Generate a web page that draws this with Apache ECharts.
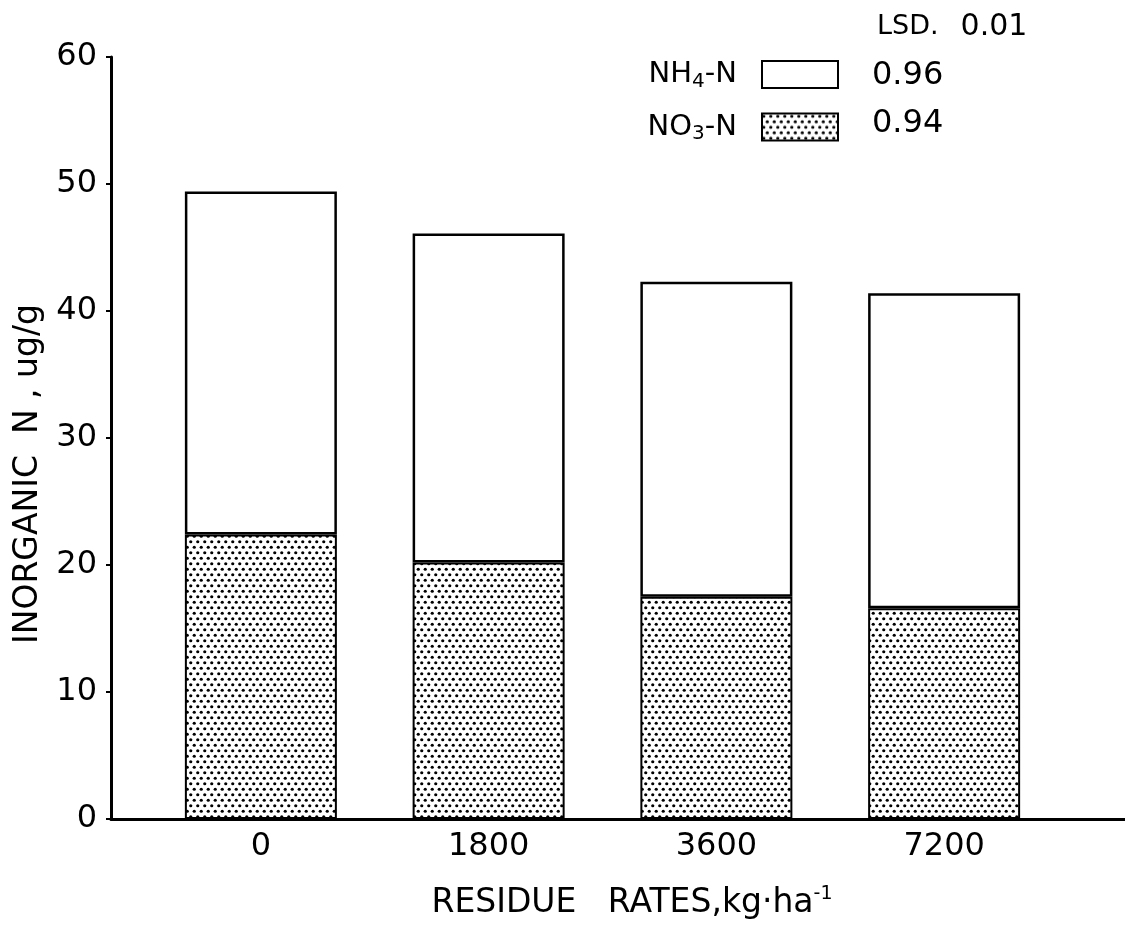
<!DOCTYPE html>
<html><head><meta charset="utf-8">
<script src="https://cdn.jsdelivr.net/npm/echarts@6/dist/echarts.min.js"></script>
<style>html,body{margin:0;padding:0;background:#fff;}#c{width:1125px;height:933px;}</style>
</head><body><div id="c"></div>
<script>
var categories = ['0', '1800', '3600', '7200'];
var no3 = [22.4, 20.2, 17.5, 16.6];
var nh4 = [27.0, 25.9, 24.8, 24.8];
var yTicks = [0, 10, 20, 30, 40, 50, 60];
var lsdLabel = 'LSD.';
var lsdLevel = '0.01';
var lsdValues = ['0.96', '0.94'];

var FONT = 'DejaVu Sans';
function dots() {
  var c = document.createElement('canvas');
  c.width = 7; c.height = 11;
  var g = c.getContext('2d');
  g.fillStyle = '#fff'; g.fillRect(0, 0, 7, 11);
  g.fillStyle = '#000';
  g.beginPath(); g.arc(1.75, 2.75, 1.6, 0, Math.PI * 2); g.fill();
  g.beginPath(); g.arc(5.25, 8.25, 1.6, 0, Math.PI * 2); g.fill();
  return c;
}
var pat = {image: dots(), repeat: 'repeat'};

var chart = echarts.init(document.getElementById('c'));
chart.setOption({
  animation: false,
  backgroundColor: '#fff',
  grid: [
    {left: 147, right: 67, top: 57, bottom: 114},
    {left: 111, right: 0, top: 57, bottom: 114}
  ],
  legend: {
    orient: 'vertical', right: 286, top: 60, align: 'right', padding: 0,
    icon: 'rect', itemWidth: 76, itemHeight: 27, itemGap: 21,
    data: ['NH4-N', 'NO3-N'],
    formatter: function (n) {
      return n === 'NH4-N' ? '{a|NH}{s|4}{a|-N}' : '{a|NO}{s|3}{a|-N}';
    },
    textStyle: {
      color: '#000', fontFamily: FONT, fontSize: 29, padding: [0, 20, 0, 0],
      rich: {
        a: {fontFamily: FONT, fontSize: 29, color: '#000'},
        s: {fontFamily: FONT, fontSize: 20, color: '#000', padding: [14, 0, 0, 0]}
      }
    }
  },
  xAxis: [
    {type: 'category', gridIndex: 0, data: categories,
     axisLine: {show: false}, axisTick: {show: false},
     axisLabel: {color: '#000', fontFamily: FONT, fontSize: 32, margin: 12}},
    {type: 'value', gridIndex: 1, min: 0, max: 1,
     axisLine: {show: true, onZero: false, lineStyle: {color: '#000', width: 3}},
     axisTick: {show: false}, axisLabel: {show: false}, splitLine: {show: false}}
  ],
  yAxis: [
    {type: 'value', gridIndex: 0, min: yTicks[0], max: yTicks[yTicks.length - 1], interval: 10,
     offset: 36,
     axisLine: {show: true, lineStyle: {color: '#000', width: 3}},
     axisTick: {show: true, length: 5, lineStyle: {color: '#000', width: 2}},
     axisLabel: {color: '#000', fontFamily: FONT, fontSize: 32, margin: 14},
     splitLine: {show: false}},
    {type: 'value', gridIndex: 1, min: 0, max: 1, show: false}
  ],
  series: [
    {name: 'NO3-N', type: 'bar', stack: 'n', data: no3, barWidth: 152,
     itemStyle: {color: pat, borderColor: '#000', borderWidth: 2}},
    {name: 'NH4-N', type: 'bar', stack: 'n', data: nh4, barWidth: 152,
     itemStyle: {color: '#fff', borderColor: '#000', borderWidth: 2.5}}
  ],
  graphic: [
    {type: 'text', x: 877, y: 27, style: {
      text: '{a|' + lsdLabel + '}{b|' + lsdLevel + '}', verticalAlign: 'middle',
      rich: {a: {fontFamily: FONT, fontSize: 27, fill: '#000'},
             b: {fontFamily: FONT, fontSize: 30, fill: '#000', padding: [0, 0, 0, 22]}}}},
    {type: 'text', x: 872, y: 76, style: {text: lsdValues[0], verticalAlign: 'middle', fontFamily: FONT, fontSize: 32, fill: '#000'}},
    {type: 'text', x: 872, y: 124, style: {text: lsdValues[1], verticalAlign: 'middle', fontFamily: FONT, fontSize: 32, fill: '#000'}},
    {type: 'text', x: 632, y: 903, style: {
      text: '{a|RESIDUE   RATES,kg·ha}{s|-1}', align: 'center', verticalAlign: 'middle',
      rich: {a: {fontFamily: FONT, fontSize: 33, fill: '#000'},
             s: {fontFamily: FONT, fontSize: 19, fill: '#000', padding: [0, 0, 18, 0]}}}},
    {type: 'text', x: 28, y: 474, rotation: Math.PI / 2, style: {
      text: 'INORGANIC  N , ug/g', align: 'center', verticalAlign: 'middle',
      fontFamily: FONT, fontSize: 33, fill: '#000'}}
  ]
});
</script></body></html>
